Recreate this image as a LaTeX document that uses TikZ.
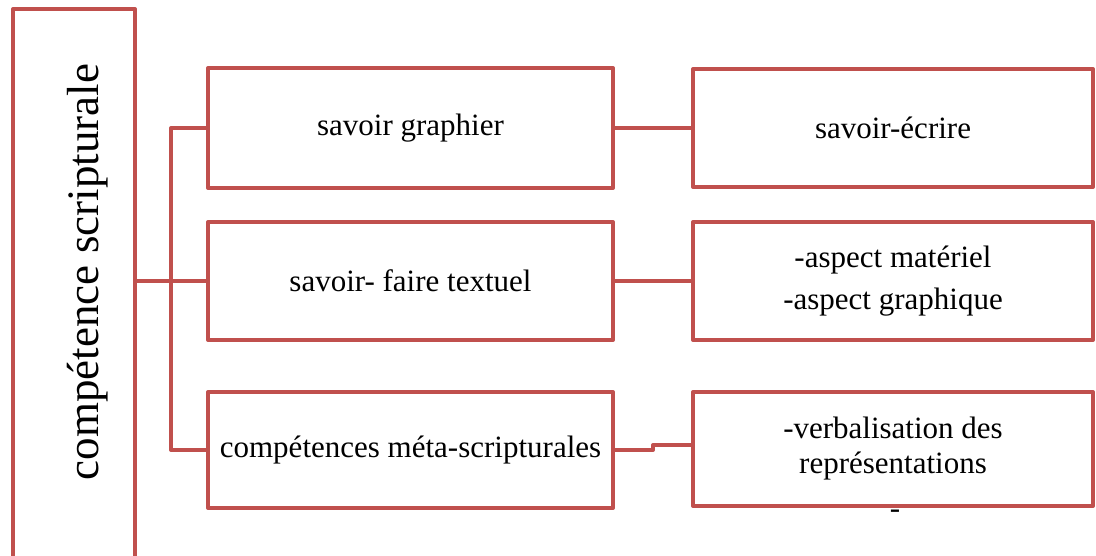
\documentclass[tikz,border=0pt]{standalone}
\usepackage{fontspec}
\setmainfont{Liberation Serif}
\definecolor{brick}{HTML}{C0504D}
\tikzset{
  box/.style={draw=brick,line width=4pt,inner sep=2pt,align=center,
    font=\fontsize{31}{37}\selectfont},
  leftbox/.style={box,minimum width=405pt},
  rightbox/.style={box,minimum width=400pt},
  link/.style={draw=brick,line width=4pt}
}
\begin{document}
\begin{tikzpicture}[x=1pt,y=-1pt,line join=round]
  \useasboundingbox (0,0) rectangle (1096,555);
  \clip (0,0) rectangle (1096,555);

  \node[draw=brick,line width=4pt,minimum width=122pt,minimum height=580pt] (comp) at (74,299) {};
  \node[rotate=90,font=\fontsize{45}{54}\selectfont] (comptxt) at (88,272) {compétence scripturale};

  \node[leftbox,minimum height=120pt] (graph) at (410.5,128) {savoir graphier};
  \node[leftbox,minimum height=118pt] (text) at (410.5,281) {savoir- faire textuel};
  \node[leftbox,minimum height=116pt] (meta) at (410.5,450) {compétences méta-scripturales};

  \node[rightbox,minimum height=118pt] (ecrire) at (893,128) {savoir-écrire};
  \node[rightbox,minimum height=118pt] (aspect) at (893,281) {-aspect matériel\\[5pt]-aspect graphique};
  \node[rightbox,minimum height=114pt] (verbal) at (893,449) {-verbalisation des\\[-2pt]représentations};
  \node[font=\fontsize{31}{37}\selectfont,inner sep=0pt] (dash) at (895,514) {-};

  \coordinate (jog) at (653,445);
  \draw[link] (graph.west) -- ++(-35,0) |- (meta.west);
  \draw[link] (comp.east |- text.west) -- (text.west);
  \draw[link] (graph.east) -- (ecrire.west);
  \draw[link] (text.east) -- (aspect.west);
  \draw[link] (meta.east) -- (meta.east -| jog) -- (jog) -- (jog -| verbal.west);
\end{tikzpicture}
\end{document}
